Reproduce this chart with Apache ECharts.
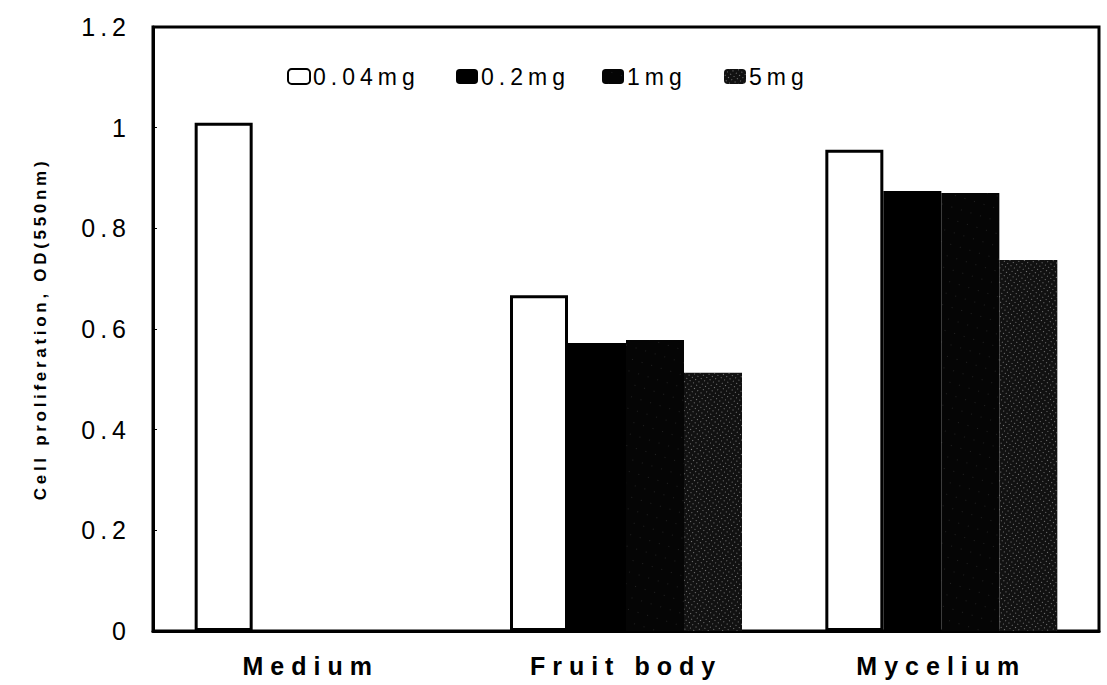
<!DOCTYPE html>
<html>
<head>
    <meta charset="utf-8">
    <script src="https://cdn.jsdelivr.net/npm/echarts@6/dist/echarts.min.js"></script>
</head>
<body style="margin:0;background:#fff">
    <div id="chart" style="width:1107px;height:685px;"></div>
<script type="text/javascript">
    // data
    var categories = ['Medium', 'Fruit body', 'Mycelium'];
    var doseNames = ['0.04mg', '0.2mg', '1mg', '5mg'];
    var dose004 = [1.01, 0.667, 0.956];
    var dose02 = ['-', 0.572, 0.874];
    var dose1 = ['-', 0.578, 0.870];
    var dose5 = ['-', 0.513, 0.737];
    var yTicks = [0, 0.2, 0.4, 0.6, 0.8, 1, 1.2];

    var chart = echarts.init(document.getElementById('chart'), null, {renderer: 'svg'});

    var fonts = 'Arial, "Liberation Sans", sans-serif';

    function bar(name, data, style) {
        return {
            name: name,
            type: 'bar',
            data: data,
            barWidth: 58,
            barGap: '0%',
            itemStyle: style
        };
    }

    // one legend per item so each sits where the scan has it
    var legendLeft = [282, 451, 597, 719];
    var legends = doseNames.map(function (n, i) {
        return {
            data: [n],
            left: legendLeft[i],
            top: 60,
            itemWidth: 22,
            itemHeight: 15,
            selectedMode: false,
            textStyle: {color: '#000', fontSize: 23, fontFamily: fonts, padding: [0, 0, 0, -2]}
        };
    });

    option = {
        animation: false,
        grid: {
            left: 153, right: 8, top: 27, bottom: 54,
            show: true,
            borderColor: '#000',
            borderWidth: 3
        },
        legend: legends,
        xAxis: {
            type: 'category',
            data: categories,
            axisLine: {lineStyle: {color: '#000', width: 3}},
            axisTick: {show: false},
            axisLabel: {
                color: '#000', fontSize: 25, fontWeight: 'bold', fontFamily: fonts, margin: 22
            }
        },
        yAxis: {
            type: 'value',
            min: yTicks[0],
            max: yTicks[yTicks.length - 1],
            interval: 0.2,
            name: 'Cell proliferation, OD(550nm)',
            nameLocation: 'middle',
            nameGap: 104,
            nameTextStyle: {color: '#000', fontSize: 17, fontWeight: 'bold', fontFamily: fonts},
            axisLine: {show: true, lineStyle: {color: '#000', width: 3}},
            axisTick: {show: true, inside: true, length: 4, lineStyle: {color: '#000', width: 1}},
            splitLine: {show: false},
            axisLabel: {color: '#000', fontSize: 25, fontFamily: fonts, margin: 22}
        },
        series: [
            bar(doseNames[0], dose004, {color: '#fff', borderColor: '#000', borderWidth: 3}),
            bar(doseNames[1], dose02, {color: '#000'}),
            bar(doseNames[2], dose1, {
                color: '#050505',
                decal: {symbol: 'rect', symbolSize: 0.5, color: 'rgba(255,255,255,0.45)',
                    dashArrayX: [1, 9], dashArrayY: [1, 11], rotation: 0.3}
            }),
            bar(doseNames[3], dose5, {
                color: '#111',
                decal: {symbol: 'rect', symbolSize: 0.8, color: 'rgba(255,255,255,0.55)',
                    dashArrayX: [1, 3], dashArrayY: [1, 3], rotation: 0.6}
            })
        ]
    };

    chart.setOption(option);

    // the scan uses wide letter spacing; add it to the svg text
    var spacing = {'Cell proliferation, OD(550nm)': 3.7};
    categories.forEach(function (c) { spacing[c] = 7; });
    doseNames.forEach(function (d) { spacing[d] = 5; });
    document.querySelectorAll('#chart text').forEach(function (t) {
        var s = spacing[t.textContent];
        if (s === undefined) s = 5;
        t.style.letterSpacing = s + 'px';
    });
</script>
</body>
</html>
